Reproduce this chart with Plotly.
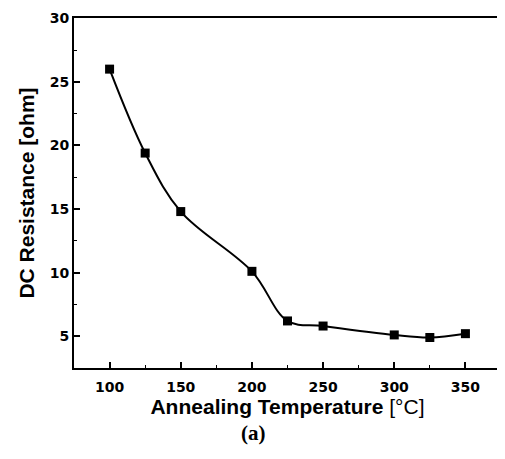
import plotly.graph_objects as go

temperature = [100, 125, 150, 200, 225, 250, 300, 325, 350]
resistance = [26.0, 19.4, 14.8, 10.1, 6.2, 5.8, 5.1, 4.9, 5.2]

x_ticks = [100, 150, 200, 250, 300, 350]
y_ticks = [5, 10, 15, 20, 25, 30]

fig = go.Figure()
fig.add_trace(go.Scatter(
    x=temperature, y=resistance,
    mode="lines+markers",
    line=dict(color="black", width=2, shape="spline", smoothing=1.0),
    marker=dict(symbol="square", size=9, color="black"),
    showlegend=False,
))

tickfont = dict(family="DejaVu Sans", size=14, color="black", weight="bold")
titlefont = dict(family="Liberation Sans, Arial", size=21, color="black")

fig.update_xaxes(
    range=[75, 375], tickvals=x_ticks, ticks="inside", ticklen=6, tickwidth=1.5,
    tickcolor="black", showline=True, linecolor="black", linewidth=2, mirror=True,
    showgrid=False, zeroline=False, tickfont=tickfont, ticklabelstandoff=5,
    ticklabeloverflow="allow",
    minor=dict(dtick=25, tick0=75, ticks="inside", ticklen=3, tickcolor="black", tickwidth=1, showgrid=False),
    title=dict(text="<b>Annealing Temperature</b> [°C]", font=titlefont, standoff=5),
)
fig.update_yaxes(
    range=[2.5, 30.02], tickvals=y_ticks, ticks="inside", ticklen=6, tickwidth=1.5,
    tickcolor="black", showline=True, linecolor="black", linewidth=2, mirror=True,
    showgrid=False, zeroline=False, tickfont=tickfont, ticklabeloverflow="allow",
    minor=dict(dtick=2.5, tick0=0, ticks="inside", ticklen=3, tickcolor="black", tickwidth=1, showgrid=False),
    title=dict(text="<b>DC Resistance [ohm]</b>", font=titlefont, standoff=9),
)

fig.add_annotation(
    text="<b>(a)</b>", xref="paper", yref="paper", x=0.42, xanchor="center",
    y=-0.145, yanchor="top", showarrow=False,
    font=dict(family="Liberation Serif, Times New Roman", size=21, color="black"),
)

# page body has an 8px default margin; size the figure so the plot area
# lands where the reference has it inside the 505x459 window
fig.update_layout(
    width=497, height=451,
    margin=dict(l=66, r=2, t=7, b=91),
    paper_bgcolor="white", plot_bgcolor="white",
)

fig.write_html("out.html")
